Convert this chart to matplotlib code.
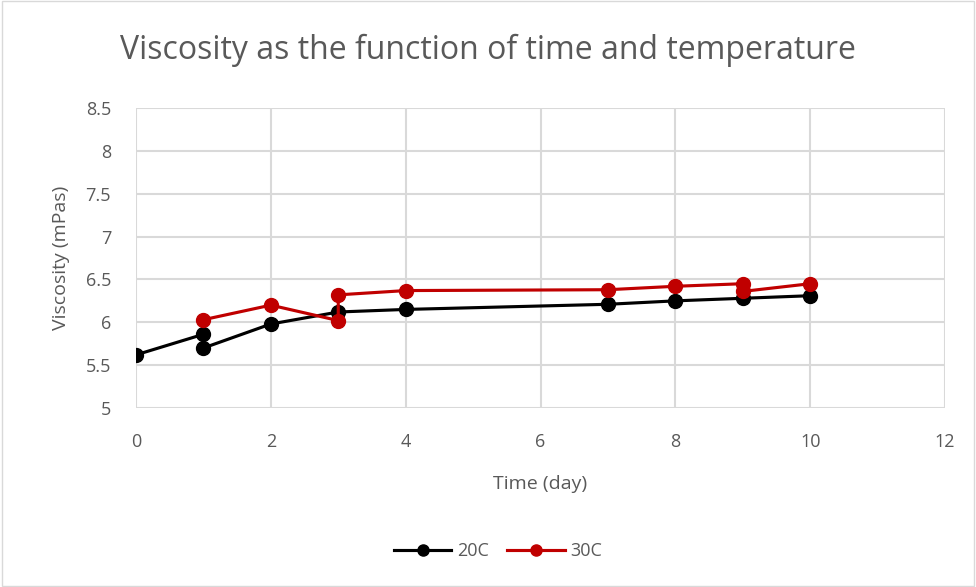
import matplotlib
matplotlib.use("Agg")
import matplotlib.pyplot as plt
from matplotlib.patches import Rectangle

plt.rcParams['font.family'] = ['Open Sans', 'DejaVu Sans']

days_20 = [0, 1, 1, 2, 3, 4, 7, 8, 9, 10]
visc_20 = [5.62, 5.86, 5.70, 5.98, 6.12, 6.15, 6.21, 6.25, 6.28, 6.31]

days_30 = [1, 2, 3, 3, 4, 7, 8, 9, 9, 10]
visc_30 = [6.03, 6.20, 6.02, 6.32, 6.37, 6.38, 6.42, 6.45, 6.36, 6.45]

xticks = [0, 2, 4, 6, 8, 10, 12]
yticks = [5, 5.5, 6, 6.5, 7, 7.5, 8, 8.5]
ytick_labels = ["5", "5.5", "6", "6.5", "7", "7.5", "8", "8.5"]

txt = '#595959'
grid = '#d9d9d9'

fig = plt.figure(figsize=(9.76, 5.87), dpi=100)
ax = fig.add_axes([136/976, 1 - 408/587, (945-136)/976, (408-108)/587])

# outer chart border
fig.patches.append(Rectangle((0.002, 0.002), 0.996, 0.996, transform=fig.transFigure,
                             fill=False, edgecolor='#d9d9d9', linewidth=1))

ax.plot(days_20, visc_20, color='black', linewidth=2.25, marker='o', markersize=10,
        label='20C', zorder=3)
ax.plot(days_30, visc_30, color='#c00000', linewidth=2.25, marker='o', markersize=10,
        label='30C', zorder=4)

ax.set_xlim(0, 12)
ax.set_ylim(5, 8.5)
ax.set_xticks(xticks)
ax.set_yticks(yticks)
ax.set_yticklabels(ytick_labels)
ax.grid(True, color=grid, linewidth=1.5)
ax.set_axisbelow(True)
for s in ax.spines.values():
    s.set_visible(False)
ax.tick_params(length=0, labelsize=13, labelcolor=txt)
ax.tick_params(axis='y', pad=18)
ax.tick_params(axis='x', pad=18)

ax.set_xlabel("Time (day)", fontsize=14, color=txt, labelpad=17)
ax.set_ylabel("Viscosity (mPas)", fontsize=14, color=txt, labelpad=11)
fig.text(0.5, 1 - 50/587, "Viscosity as the function of time and temperature",
         ha='center', va='center', fontsize=23, color=txt)

leg = fig.legend(loc='center', bbox_to_anchor=(0.51, 1 - 551/587), ncol=2, frameon=False,
                 fontsize=13, handlelength=3.2, columnspacing=1.0, handletextpad=0.3,
                 markerscale=0.8)
for t in leg.get_texts():
    t.set_color(txt)

fig.savefig("out.png", dpi=100)
